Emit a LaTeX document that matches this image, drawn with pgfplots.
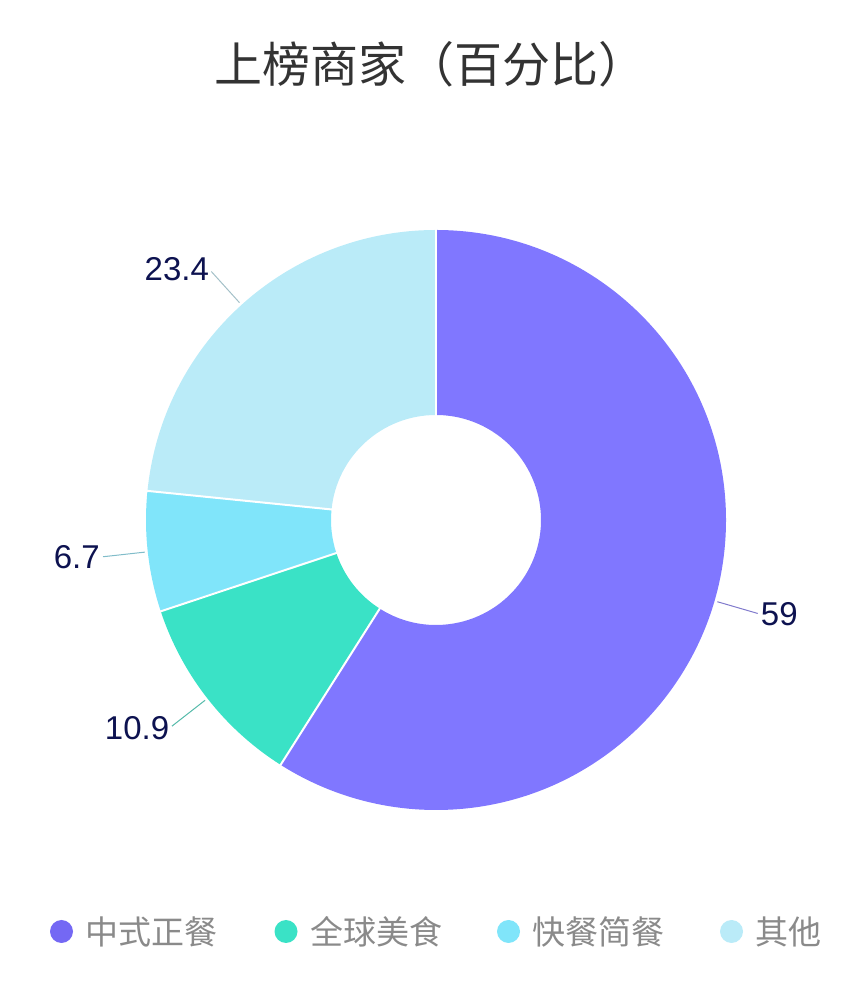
\documentclass[border=0pt]{standalone}
\usepackage{pgfplots}
\pgfplotsset{compat=1.18}
\usepackage{pgfplotstable}
\usepackage{fontspec}
\setmainfont{Liberation Sans}
\newfontfamily\cjk{Noto Sans CJK SC}

\definecolor{c0}{HTML}{8077FF}
\definecolor{c1}{HTML}{3AE2C6}
\definecolor{c2}{HTML}{80E5FA}
\definecolor{c3}{HTML}{BAEBF8}
\definecolor{lg0}{HTML}{7468F4}
\definecolor{labc}{HTML}{0D1250}
\definecolor{titc}{HTML}{333333}
\definecolor{legc}{HTML}{8A8A8A}

% share of each slice, clockwise from 12 o'clock
\pgfplotstableread{
idx value
0 59
1 10.9
2 6.7
3 23.4
}\piedata

\newcommand\sa[1]{\csname angS#1\endcsname}
\newcommand\ea[1]{\csname angE#1\endcsname}
\newcommand\ma[1]{\csname angM#1\endcsname}

\begin{document}
\begin{tikzpicture}
\def\cum{0}
\pgfplotsforeachungrouped \i in {0,1,2,3}{%
  \pgfplotstablegetelem{\i}{value}\of\piedata
  \let\curval\pgfplotsretval
  \pgfmathsetmacro\a{90-3.6*\cum}
  \pgfmathsetmacro\cum{\cum+\curval}
  \pgfmathsetmacro\b{90-3.6*\cum}
  \pgfmathsetmacro\m{(\a+\b)/2}
  \pgfmathsetmacro\cm{cos(\m)}
  \expandafter\xdef\csname angS\i\endcsname{\a}
  \expandafter\xdef\csname angE\i\endcsname{\b}
  \expandafter\xdef\csname angM\i\endcsname{\m}
  \expandafter\xdef\csname val\i\endcsname{\curval}
  \ifdim\cm pt>0pt
    \expandafter\xdef\csname anc\i\endcsname{west}
  \else
    \expandafter\xdef\csname anc\i\endcsname{east}
  \fi
}
\begin{axis}[
  width=430.5pt, height=492pt, scale only axis,
  xmin=0, xmax=861, ymin=0, ymax=984,
  hide axis, clip=false,
]
% keep the full canvas as the page
\path (axis cs:0,0) rectangle (axis cs:861,984);
% donut slices
\pgfplotsinvokeforeach{0,1,2,3}{
  \fill[c#1] (axis cs:{436+290*cos(\sa{#1})},{464+290*sin(\sa{#1})})
    arc[start angle=\sa{#1}, end angle=\ea{#1}, radius=145pt]
    -- (axis cs:{436+105*cos(\ea{#1})},{464+105*sin(\ea{#1})})
    arc[start angle=\ea{#1}, end angle=\sa{#1}, radius=52.5pt] -- cycle;
}
% white gaps between slices
\pgfplotsinvokeforeach{0,1,2,3}{
  \draw[white, line width=1pt]
    (axis cs:{436+104*cos(\sa{#1})},{464+104*sin(\sa{#1})})
    -- (axis cs:{436+291*cos(\sa{#1})},{464+291*sin(\sa{#1})});
}
% leader lines and value labels
\pgfplotsinvokeforeach{0,1,2,3}{
  \draw[c#1!60!gray, line width=0.5pt]
    (axis cs:{436+293*cos(\ma{#1})},{464+293*sin(\ma{#1})})
    -- (axis cs:{436+335*cos(\ma{#1})},{464+335*sin(\ma{#1})});
  \node[anchor=\csname anc#1\endcsname, inner sep=0pt, text=labc,
        font=\fontsize{16.5}{16.5}\selectfont]
    at (axis cs:{436+338*cos(\ma{#1})},{464+338*sin(\ma{#1})})
    {\csname val#1\endcsname};
}
% title
\node[text=titc, inner sep=0pt] at (axis cs:430.5,920)
  {\cjk\fontsize{24}{24}\selectfont 上榜商家（百分比）};
% legend
\fill[lg0] (axis cs:61.5,52.5) circle[radius=5.75pt];
\node[anchor=west, inner sep=0pt, text=legc] at (axis cs:85.5,52.5)
  {\cjk\fontsize{16.5}{16.5}\selectfont 中式正餐};
\fill[c1] (axis cs:286,52.5) circle[radius=5.75pt];
\node[anchor=west, inner sep=0pt, text=legc] at (axis cs:310,52.5)
  {\cjk\fontsize{16.5}{16.5}\selectfont 全球美食};
\fill[c2] (axis cs:508.5,52.5) circle[radius=5.75pt];
\node[anchor=west, inner sep=0pt, text=legc] at (axis cs:532.5,52.5)
  {\cjk\fontsize{16.5}{16.5}\selectfont 快餐简餐};
\fill[c3] (axis cs:731.5,52.5) circle[radius=5.75pt];
\node[anchor=west, inner sep=0pt, text=legc] at (axis cs:755.5,52.5)
  {\cjk\fontsize{16.5}{16.5}\selectfont 其他};
\end{axis}
\end{tikzpicture}
\end{document}
